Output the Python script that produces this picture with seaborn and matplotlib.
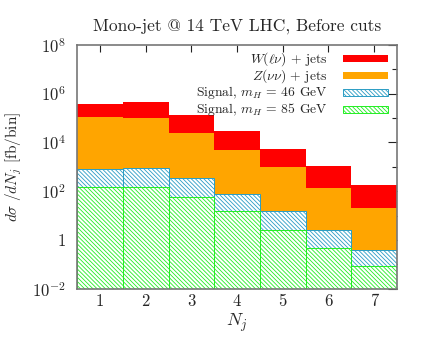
import numpy as np
import pandas as pd
import seaborn as sns
import matplotlib.pyplot as plt
from matplotlib.patches import Rectangle
from matplotlib.ticker import FixedLocator, FixedFormatter

# values (fb/bin)
n_jets = [1, 2, 3, 4, 5, 6, 7]
w_jets = [2.67e5, 3.37e5, 1.11e5, 2.54e4, 4.44e3, 955, 153]
z_jets = [1.05e5, 1.0e5, 2.4e4, 4.8e3, 933, 141, 21.4]
sig_46 = [813, 891, 347, 75.9, 14.8, 2.57, 0.389]
sig_85 = [151, 151, 58.9, 14.8, 2.57, 0.49, 0.085]

df = pd.DataFrame({"Nj": n_jets, "W": w_jets, "Z": z_jets,
                   "s46": sig_46, "s85": sig_85})
df["total"] = df["W"] + df["Z"]

sns.set_style("white")
plt.rcParams["font.family"] = ["cmr10", "DejaVu Serif"]
plt.rcParams["mathtext.fontset"] = "cm"
plt.rcParams["axes.unicode_minus"] = False
plt.rcParams["hatch.linewidth"] = 0.6

red = "#ff0000"
orange = "#ffa500"
blue = "#2a9dc4"
green = "#22ee22"
hatch = "\\" * 8

fig = plt.figure(figsize=(4.24, 3.41), dpi=100)
ax = fig.add_axes([0.182, 0.153, 0.754, 0.716])

sns.barplot(data=df, x="Nj", y="total", native_scale=True, width=1,
            color=red, saturation=1, linewidth=0, ax=ax)
sns.barplot(data=df, x="Nj", y="Z", native_scale=True, width=1,
            color=orange, saturation=1, linewidth=0, ax=ax)
sns.barplot(data=df, x="Nj", y="s46", native_scale=True, width=1,
            color="white", saturation=1, edgecolor=blue, hatch=hatch,
            linewidth=0.7, ax=ax)
sns.barplot(data=df, x="Nj", y="s85", native_scale=True, width=1,
            color="white", saturation=1, edgecolor=green, hatch=hatch,
            linewidth=0.7, ax=ax)

ax.set_yscale("log")
ax.set_ylim(1e-2, 1e8)
ax.set_xlim(0.5, 7.5)

ax.yaxis.set_major_locator(FixedLocator([1e-2, 1, 1e2, 1e4, 1e6, 1e8]))
ax.yaxis.set_major_formatter(FixedFormatter(
    ["$10^{-2}$", "$1$", "$10^{2}$", "$10^{4}$", "$10^{6}$", "$10^{8}$"]))
ax.yaxis.set_minor_locator(FixedLocator([1e-1, 1e1, 1e3, 1e5, 1e7]))
ax.yaxis.set_minor_formatter(FixedFormatter([]))
ax.set_xticks(n_jets)
ax.set_xticklabels([str(n) for n in n_jets])

ax.tick_params(which="both", direction="in", top=True, right=True,
               labelsize=12, color="#222222", width=0.8)
ax.tick_params(axis="y", which="major", length=6.5)
ax.tick_params(axis="y", which="minor", length=3.6)
ax.tick_params(axis="x", length=5)
ax.tick_params(axis="y", pad=8)
for sp in ax.spines.values():
    sp.set_color("#777777")
    sp.set_linewidth(1.2)

ax.set_xlabel("$N_j$", fontsize=13, labelpad=2)
ax.set_ylabel(r"$d\sigma\ /dN_j$ [fb/bin]", fontsize=11, labelpad=6)
ax.set_title("Mono-jet @ 14 TeV LHC, Before cuts", fontsize=12.5, pad=10)

# gnuplot-style key: right-aligned text, swatch on the right
labels = [r"$W(\ell\nu)$ + jets", r"$Z(\nu\nu)$ + jets",
          r"Signal, $m_H$ = 46 GeV", r"Signal, $m_H$ = 85 GeV"]
styles = [dict(facecolor=red, edgecolor="none"),
          dict(facecolor=orange, edgecolor="none"),
          dict(facecolor="white", edgecolor=blue, hatch=hatch, linewidth=0.7),
          dict(facecolor="white", edgecolor=green, hatch=hatch, linewidth=0.7)]
for i, (lab, st) in enumerate(zip(labels, styles)):
    y = 0.942 - i * 0.069
    ax.text(0.784, y, lab, transform=ax.transAxes, ha="right",
            va="center", fontsize=9.8, zorder=10)
    ax.add_patch(Rectangle((0.831, y - 0.0145), 0.1406, 0.029,
                           transform=ax.transAxes, zorder=10, **st))

fig.savefig("out.png", dpi=100)
